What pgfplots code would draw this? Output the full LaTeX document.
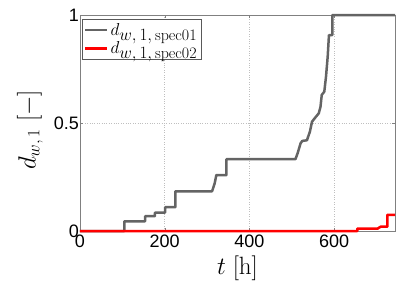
\documentclass[border=0pt]{standalone}
\usepackage{fontspec}
\usepackage{pgfplots}
\pgfplotsset{compat=1.18}
\newfontfamily\hv{Liberation Sans}
\DeclareMathSizes{18}{18}{16}{12}
\DeclareMathSizes{25}{25}{19}{13}
\definecolor{dgray}{RGB}{100,100,100}
\definecolor{mred}{RGB}{255,0,0}
\begin{document}
\begin{tikzpicture}
\useasboundingbox (-80pt,-56pt) rectangle (329pt,231pt);
\begin{axis}[
  scale only axis,
  width=315pt, height=216pt,
  xmin=0, xmax=744, ymin=0, ymax=1,
  xtick={0,200,400,600},
  ytick={0,0.5,1},
  yticklabels={0,0.5,1},
  xticklabels={0,200,400,600},
  clip=false,
  axis line style={draw=black!50},
  tick align=inside,
  major tick length=3pt,
  tick style={black!50},
  grid=major,
  major grid style={dotted, black!25},
  ticklabel style={font=\hv\fontsize{18}{18}\selectfont},
  /pgf/number format/assume math mode=true,
  yticklabel style={inner xsep=1pt},
  xticklabel style={inner ysep=4pt},
  xlabel={$t\;[\mathrm{h}]$},
  ylabel={$d_{w,\,1}\;[-]$},
  label style={font=\fontsize{25}{28}\selectfont},
  xlabel style={at={(axis description cs:0.5,-0.171)}, anchor=center},
  ylabel style={at={(axis description cs:-0.159,0.468)}, anchor=center},
  legend style={at={(axis description cs:0.006,0.981)}, anchor=north west,
    draw=black!65, fill=white, font=\fontsize{18}{20}\selectfont,
    inner xsep=2pt, inner ysep=2.5pt, row sep=2pt,
    nodes={inner ysep=1.5pt}},
  legend cell align=left,
  legend image code/.code={\draw[#1, line width=2.5pt] (0pt,0pt) -- (22pt,0pt);},
]
\addplot[dgray, line width=2.5pt, line join=round] coordinates {
(0,0) (105,0) (105,0.045) (154,0.045) (154,0.069) (177,0.069) (177,0.085)
(201,0.085) (201,0.11) (225,0.11) (225,0.184) (312,0.184) (318,0.22) (322,0.259)
(346,0.259) (346,0.333) (509,0.333) (514,0.36) (521,0.406) (525,0.417)
(536,0.42) (543,0.46) (548,0.506) (556,0.526) (564,0.545) (568,0.575)
(571,0.63) (577,0.645) (581,0.714) (585,0.807) (588,0.907) (596,0.907)
(596,1) (744,1)
};
\addlegendentry{$d_{w,\,1,\,\mathrm{spec01}}$}
\addplot[mred, line width=2.5pt, line join=round] coordinates {
(0,0) (655,0) (655,0.011) (703,0.011) (710,0.02) (726,0.02) (726,0.075) (744,0.075)
};
\addlegendentry{$d_{w,\,1,\,\mathrm{spec02}}$}
\end{axis}
\end{tikzpicture}
\end{document}
